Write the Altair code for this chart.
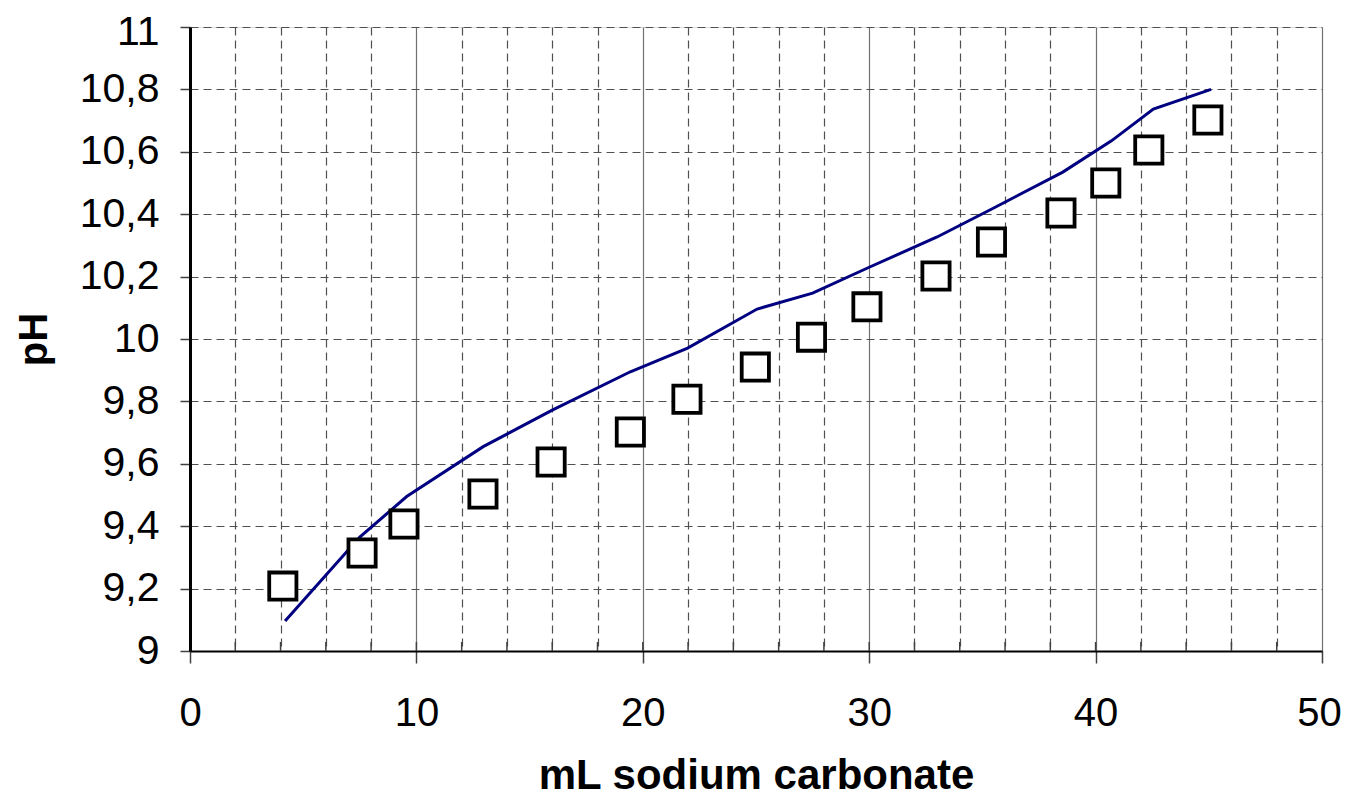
import altair as alt
import pandas as pd

# measured points (squares)
meas_x = [4.1, 7.6, 9.45, 12.94, 15.95, 19.45, 21.95, 24.97, 27.45, 29.9, 32.95, 35.4, 38.47, 40.45, 42.35, 44.96]
meas_ph = [9.208, 9.314, 9.407, 9.503, 9.606, 9.702, 9.807, 9.91, 10.006, 10.103, 10.202, 10.311, 10.404, 10.5, 10.606, 10.702]

# model curve (line)
line_x = [4.2, 7.5, 9.57, 12.95, 16.0, 19.45, 21.98, 25.05, 27.5, 30.0, 33.0, 35.5, 38.55, 40.7, 42.55, 45.1]
line_ph = [9.096, 9.365, 9.495, 9.655, 9.772, 9.895, 9.971, 10.096, 10.147, 10.23, 10.327, 10.42, 10.535, 10.635, 10.737, 10.80]

x_ticks = list(range(0, 52, 2))
inner_ticks = list(range(2, 50, 2))
y_ticks = [9, 9.2, 9.4, 9.6, 9.8, 10, 10.2, 10.4, 10.6, 10.8, 11]

W, H = 1132, 624
FONT = "Liberation Sans"

df_meas = pd.DataFrame({"x": meas_x, "ph": meas_ph})
df_line = pd.DataFrame({"x": line_x, "ph": line_ph})
df_ticks = pd.DataFrame({"x": inner_ticks})

xscale = alt.Scale(domain=[0, 50], nice=False, zero=False)
yscale = alt.Scale(domain=[9, 11], nice=False, zero=False)

xaxis = alt.Axis(
    values=x_ticks,
    title="mL sodium carbonate",
    titleFont=FONT, titleFontSize=42, titleFontWeight="bold", titleColor="black",
    titleBaseline="alphabetic", titleY=137,
    labelFont=FONT, labelFontSize=40, labelColor="black",
    labelBaseline="alphabetic", labelPadding=62,
    labelExpr="datum.value % 10 === 0 ? datum.label : ''",
    labelOffset=alt.condition("datum.value === 50", alt.value(-3), alt.value(0)),
    labelOverlap=False, labelFlush=False,
    tickSize=alt.condition("datum.value % 10 === 0", alt.value(12), alt.value(0)),
    tickColor="#404040", tickWidth=1.5,
    domainColor="black", domainWidth=2,
    grid=True,
    gridDash=alt.condition("datum.value % 10 === 0", alt.value([]), alt.value([8, 5])),
    gridColor=alt.condition("datum.value % 10 === 0", alt.value("#707070"), alt.value("#505050")),
    gridWidth=1.2,
)

yaxis = alt.Axis(
    values=y_ticks,
    format="~g",
    labelExpr="replace(datum.label, '.', ',')",
    title="pH",
    titleFont=FONT, titleFontSize=40, titleFontWeight="bold", titleColor="black",
    titleBaseline="middle", titleAlign="center", titleX=-156, titleY=H / 2, titleAngle=270,
    labelFont=FONT, labelFontSize=41, labelColor="black",
    labelOffset=alt.condition("datum.value === 11", alt.value(5), alt.value(0)),
    labelPadding=21, labelOverlap=False, labelFlush=False,
    tickSize=10, tickColor="#404040", tickWidth=1.5,
    domainColor="black", domainWidth=3,
    grid=True, gridDash=[8, 5], gridColor="#505050", gridWidth=1.2,
)

ticks = alt.Chart(df_ticks).mark_rule(color="#404040", strokeWidth=1.5).encode(
    x=alt.X("x:Q", scale=xscale, axis=xaxis),
    y=alt.value(H - 9),
    y2=alt.value(H),
)

line = alt.Chart(df_line).mark_line(color="#000080", strokeWidth=3).encode(
    x=alt.X("x:Q", scale=xscale),
    y=alt.Y("ph:Q", scale=yscale, axis=yaxis),
)

pts = alt.Chart(df_meas).mark_point(
    shape="square", size=740, filled=False, fill="white", fillOpacity=1,
    stroke="black", strokeWidth=3.8, opacity=1,
).encode(
    x=alt.X("x:Q", scale=xscale),
    y=alt.Y("ph:Q", scale=yscale),
)

chart = alt.layer(ticks, line, pts).properties(
    width=W, height=H,
    autosize=alt.AutoSizeParams(type="none"),
    padding={"left": 182, "top": 19, "right": 21, "bottom": 147},
).configure_view(stroke="black", strokeWidth=1.5).configure(background="white")

chart.save("out.html", embed_options={"renderer": "svg", "actions": False})
